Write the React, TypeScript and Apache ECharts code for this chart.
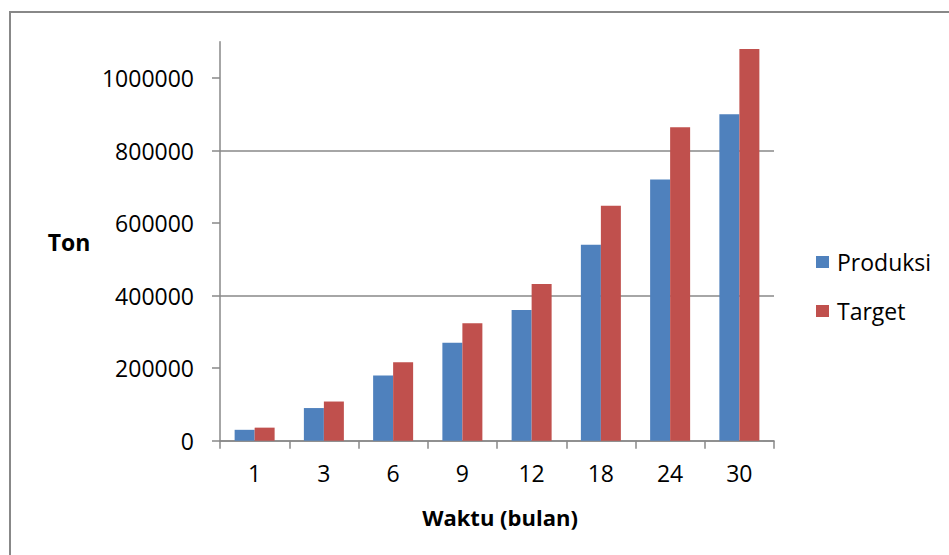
import React, { useEffect, useRef } from "react";
import * as echarts from "echarts";

const categories = ["1", "3", "6", "9", "12", "18", "24", "30"];
const produksi = [30000, 90000, 180000, 270000, 360000, 540000, 720000, 900000];
const target = [36000, 108000, 216000, 324000, 432000, 648000, 864000, 1080000];
const yTicks = [0, 200000, 400000, 600000, 800000, 1000000];
const seriesNames = ["Produksi", "Target"];
const yAxisTitle = "Ton";
const xAxisTitle = "Waktu (bulan)";

const FONT = "'Open Sans', 'Noto Sans', sans-serif";
const GRID_COLOR = "#888888";

export default function App() {
  const ref = useRef<HTMLDivElement>(null);
  useEffect(() => {
    if (!ref.current) return;
    const chart = echarts.init(ref.current, undefined, { renderer: "svg" });
    chart.setOption({
      animation: false,
      backgroundColor: "#ffffff",
      textStyle: { fontFamily: FONT },
      grid: { left: 220, right: 175, top: 41.7, bottom: 114.3, containLabel: false },
      legend: {
        orient: "vertical",
        left: 811,
        top: 245,
        itemWidth: 13,
        itemHeight: 12,
        itemGap: 25,
        icon: "rect",
        data: seriesNames,
        textStyle: { fontFamily: FONT, fontSize: 23, color: "#000", lineHeight: 24, padding: [0, 0, 0, 3] },
      },
      xAxis: {
        type: "category",
        data: categories,
        axisLine: { show: true, lineStyle: { color: GRID_COLOR, width: 1.5 } },
        axisTick: { show: true, length: 8, lineStyle: { color: GRID_COLOR, width: 1.5 } },
        axisLabel: { fontFamily: FONT, fontSize: 23, color: "#000", margin: 21 },
        splitLine: { show: false },
      },
      yAxis: {
        type: "value",
        min: 0,
        max: 1100000,
        interval: 100000,
        axisLine: { show: true, lineStyle: { color: GRID_COLOR, width: 1.5 } },
        axisTick: { show: true, length: 8, customValues: yTicks, lineStyle: { color: GRID_COLOR, width: 1.5 } },
        axisLabel: {
          fontFamily: FONT,
          fontSize: 23,
          color: "#000",
          margin: 26,
          customValues: yTicks,
          formatter: (v: number) => String(v),
        },
        splitLine: {
          show: true,
          showMaxLine: false,
          lineStyle: {
            color: ["#888888", "transparent"],
            width: 1.5,
          },
        },
      },
      graphic: [
        {
          type: "rect",
          shape: { x: 10, y: 12, width: 2000, height: 2000 },
          style: { fill: "none", stroke: "#888888", lineWidth: 2 },
          silent: true,
        },
        {
          type: "text",
          x: 69,
          y: 242,
          style: {
            text: yAxisTitle,
            font: `bold 23px ${FONT}`,
            fill: "#000",
            textAlign: "center",
            textVerticalAlign: "middle",
          },
        },
        {
          type: "text",
          x: 500,
          y: 517,
          style: {
            text: xAxisTitle,
            font: `bold 22px ${FONT}`,
            fill: "#000",
            textAlign: "center",
            textVerticalAlign: "middle",
          },
        },
      ],
      series: [
        {
          name: seriesNames[0],
          type: "bar",
          data: produksi,
          barWidth: 20,
          barGap: "0%",
          itemStyle: { color: "#4F81BD" },
        },
        {
          name: seriesNames[1],
          type: "bar",
          data: target,
          barWidth: 20,
          barGap: "0%",
          itemStyle: { color: "#C0504D" },
        },
      ],
    });
    return () => chart.dispose();
  }, []);
  return (
    <div
      ref={ref}
      style={{ position: "absolute", left: 0, top: 0, width: 949, height: 555 }}
    />
  );
}
